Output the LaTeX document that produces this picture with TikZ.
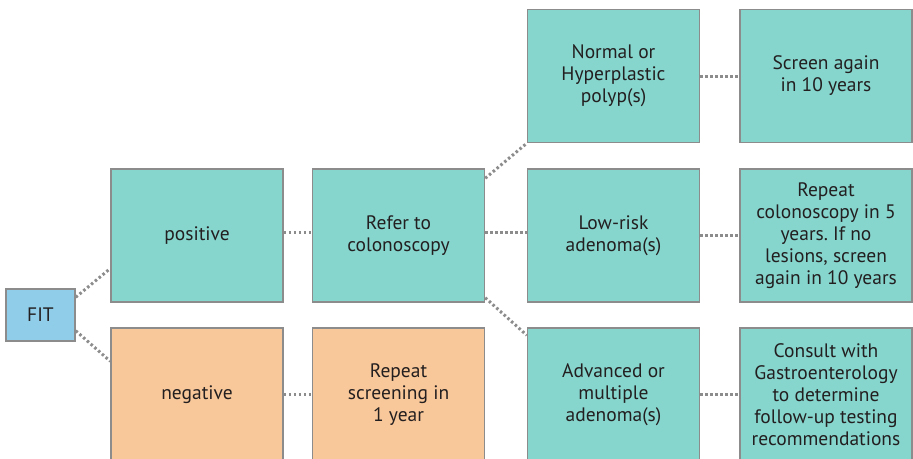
\documentclass[tikz,border=0pt]{standalone}
\usepackage{fontspec}
\setmainfont{PT Sans}
\frenchspacing
\definecolor{teal}{HTML}{86D6CE}
\definecolor{peach}{HTML}{F9C89A}
\definecolor{sky}{HTML}{8FCDE9}
\definecolor{edge}{HTML}{8C8C8C}
\definecolor{ink}{HTML}{231F20}

\begin{document}
\begin{tikzpicture}[x=1pt,y=-1pt,
    box/.style={draw=edge,line width=1.5pt,minimum width=172pt,minimum height=133pt,
      align=center,inner sep=2pt,text=ink,font=\fontsize{19.5}{22}\selectfont},
    link/.style={draw=edge,line width=3pt,dash pattern=on 2.5pt off 2.5pt}]
      \useasboundingbox (0,0) rectangle (913,458);
      \clip (0,0) rectangle (913,458);
      \node[box,fill=sky,minimum width=69pt,minimum height=52pt] (fit) at (40.5,315) {FIT};
      \node[box,fill=teal] (pos) at (197,235.5) {positive};
      \node[box,fill=peach] (neg) at (197,394.5) {negative};
      \node[box,fill=teal] (refer) at (398.5,235.5) {Refer to\\colonoscopy};
      \node[box,fill=peach] (again) at (398.5,394.5) {Repeat\\screening in\\1 year};
      \node[box,fill=teal] (normal) at (613.5,76) {Normal or\\Hyperplastic\\polyp(s)};
      \node[box,fill=teal] (low) at (613.5,235.5) {Low-risk\\adenoma(s)};
      \node[box,fill=teal] (adv) at (613.5,394.5) {Advanced or\\multiple\\adenoma(s)};
      \node[box,fill=teal] (ten) at (826,76) {Screen again\\in 10 years};
      \node[box,fill=teal] (five) at (826,235.5) {Repeat\\colonoscopy in 5\\years. If no\\lesions, screen\\again in 10 years};
      \node[box,fill=teal] (gastro) at (826,394.5) {Consult with\\Gastroenterology\\to determine\\follow-up testing\\recommendations};
      \draw[link] ([yshift=-9pt]fit.north east) -- ([yshift=-33pt]pos.west);
      \draw[link] ([yshift=11pt]fit.south east) -- ([yshift=-34pt]neg.north west);
      \draw[link] ([yshift=3pt]pos.east) -- ([yshift=3pt]refer.west);
      \draw[link] (neg.east) -- (again.west);
      \draw[link] ([yshift=-10pt]refer.north east) -- (normal.south west);
      \draw[link] ([yshift=3pt]refer.east) -- ([yshift=3pt]low.west);
      \draw[link] ([yshift=5pt]refer.south east) -- ([yshift=-8pt]adv.north west);
      \draw[link] (normal.east) -- (ten.west);
      \draw[link] (low.east) -- (five.west);
      \draw[link] (adv.east) -- (gastro.west);
\end{tikzpicture}
\end{document}
